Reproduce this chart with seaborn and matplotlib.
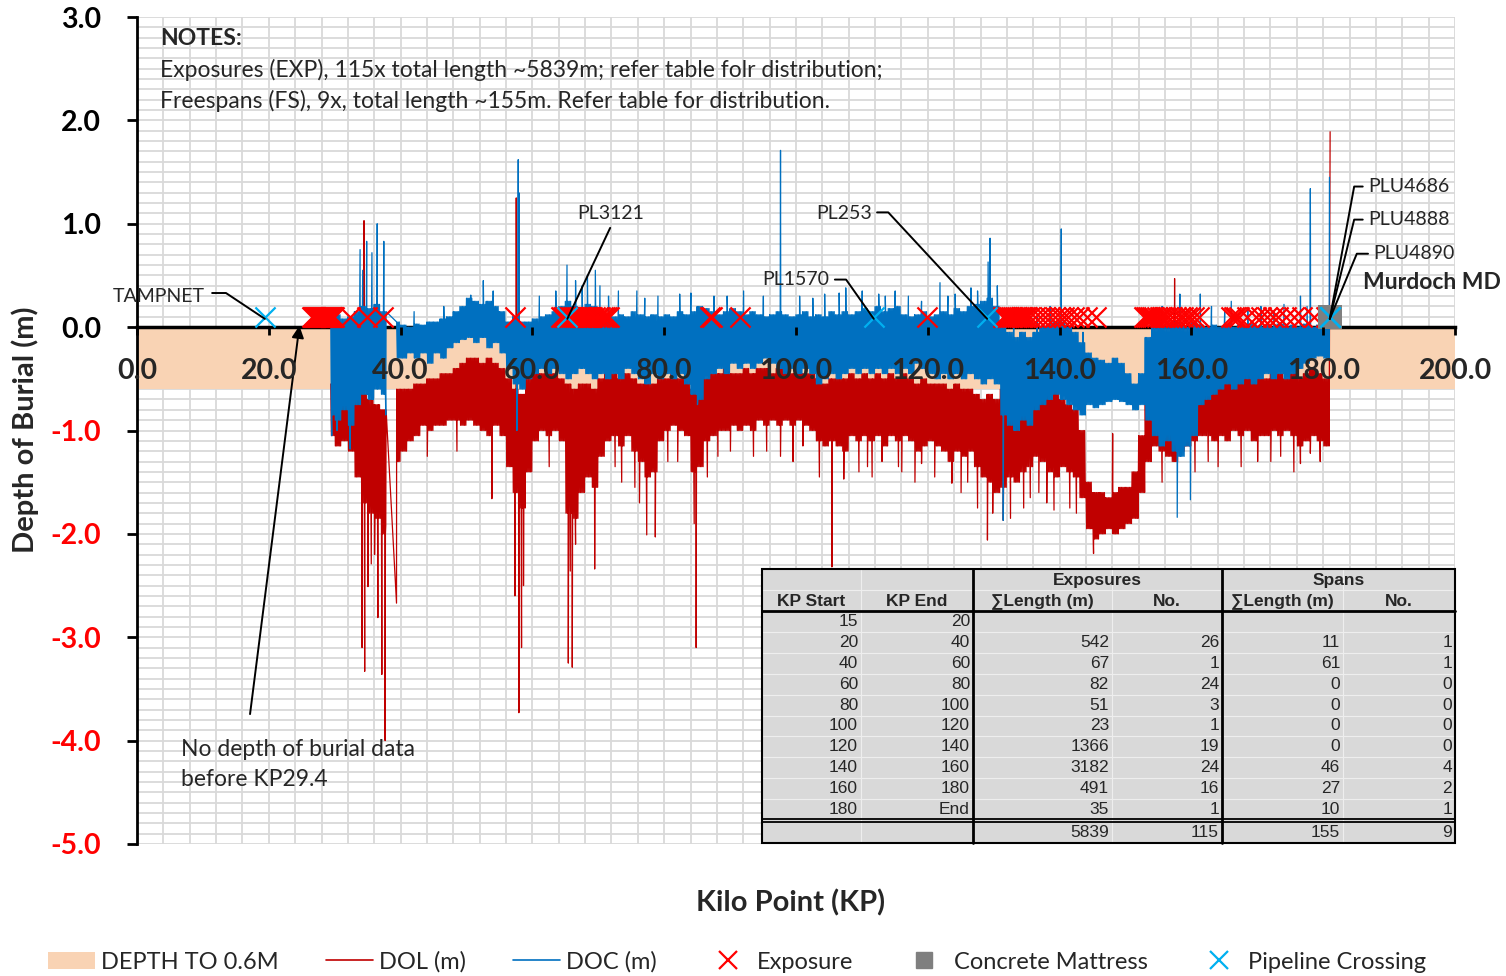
import numpy as np
import pandas as pd
import matplotlib
matplotlib.use("Agg")
import matplotlib.pyplot as plt
from matplotlib.lines import Line2D
from matplotlib.patches import Patch, Rectangle
import seaborn as sns

sns.set_style("white")
plt.rcParams["font.family"] = ["Lato", "DejaVu Sans"]

nan = np.nan

# ---------------------------------------------------------------------------
# Depth envelopes, one (upper, lower) pair per kilometre from KP 29 to KP 180
# ---------------------------------------------------------------------------
FIRST_KM = 29
DATA_START, DATA_END = 29.4, 181.0
DATA_GAP = (37.8, 39.4)

doc_top = [
    0.10, 0.12, 0.08, 0.10, 0.15, 0.20, 0.18, 0.22, 0.15, nan,
    0.05, 0.02, 0.00, 0.03, 0.02, 0.05, 0.05, 0.08, 0.10, 0.15,
    0.20, 0.28, 0.25, 0.22, 0.25, 0.20, 0.15, 0.05, 0.10, 0.05,
    0.05, 0.08, 0.10, 0.12, 0.15, 0.20, 0.25, 0.20, 0.18, 0.22,
    0.20, 0.15, 0.12, 0.10, 0.12, 0.10, 0.15, 0.12, 0.10, 0.12,
    0.10, 0.12, 0.10, 0.15, 0.12, 0.15, 0.20, 0.18, 0.15, 0.12,
    0.15, 0.18, 0.15, 0.12, 0.15, 0.12, 0.10, 0.12, 0.15, 0.12,
    0.10, 0.12, 0.15, 0.10, 0.12, 0.10, 0.15, 0.12, 0.15, 0.12,
    0.15, 0.18, 0.15, 0.20, 0.15, 0.18, 0.20, 0.12, 0.10, 0.12,
    0.15, 0.10, 0.12, 0.15, 0.12, 0.18, 0.15, 0.20, 0.22, 0.25,
    0.28, 0.20, 0.05, -0.05, -0.10, -0.05, -0.10, -0.05, 0.00, 0.02,
    0.05, 0.05, 0.00, -0.05, -0.15, -0.25, -0.30, -0.32, -0.35, -0.30,
    -0.35, -0.45, -0.55, -0.45, -0.10, 0.00, 0.02, 0.00, 0.05, 0.02,
    0.00, 0.05, 0.02, 0.00, 0.02, 0.00, 0.03, 0.00, 0.02, 0.00,
    0.03, 0.00, 0.02, 0.00, 0.03, 0.00, 0.02, 0.00, 0.03, 0.00,
    0.02, 0.03,
]
doc_bot = [
    -0.85, -0.90, -0.80, -0.95, -0.75, -0.65, -0.70, -0.60, -0.65, nan,
    -0.30, -0.30, -0.25, -0.30, -0.25, -0.35, -0.25, -0.30, -0.20, -0.15,
    -0.12, -0.10, -0.15, -0.10, -0.20, -0.15, -0.25, -0.40, -0.55, -0.60,
    -0.50, -0.45, -0.40, -0.45, -0.40, -0.45, -0.50, -0.45, -0.40, -0.45,
    -0.50, -0.45, -0.50, -0.45, -0.50, -0.40, -0.45, -0.50, -0.55, -0.45,
    -0.50, -0.45, -0.50, -0.45, -0.55, -0.65, -0.70, -0.50, -0.45, -0.40,
    -0.45, -0.35, -0.40, -0.35, -0.40, -0.35, -0.30, -0.35, -0.40, -0.45,
    -0.40, -0.45, -0.40, -0.45, -0.55, -0.50, -0.45, -0.50, -0.45, -0.40,
    -0.45, -0.40, -0.45, -0.40, -0.45, -0.40, -0.45, -0.40, -0.45, -0.35,
    -0.40, -0.45, -0.50, -0.45, -0.50, -0.45, -0.50, -0.45, -0.50, -0.55,
    -0.50, -0.55, -0.85, -0.95, -1.00, -0.90, -0.95, -0.80, -0.75, -0.70,
    -0.65, -0.70, -0.75, -0.80, -0.85, -0.75, -0.78, -0.75, -0.72, -0.70,
    -0.72, -0.75, -0.80, -0.75, -0.90, -1.05, -1.15, -1.10, -1.20, -1.25,
    -1.15, -1.05, -0.75, -0.70, -0.65, -0.60, -0.55, -0.60, -0.55, -0.50,
    -0.55, -0.50, -0.45, -0.50, -0.45, -0.50, -0.45, -0.40, -0.35, -0.30,
    -0.28, -0.30,
]
dol_top = [
    -0.55, -0.60, -0.55, -0.60, -0.60, -0.65, -0.70, -0.75, -0.80, nan,
    -0.60, -0.60, -0.60, -0.55, -0.55, -0.50, -0.50, -0.45, -0.45, -0.40,
    -0.35, -0.30, -0.30, -0.35, -0.30, -0.35, -0.40, -0.50, -0.60, -0.65,
    -0.50, -0.45, -0.45, -0.40, -0.45, -0.50, -0.55, -0.60, -0.55, -0.55,
    -0.60, -0.50, -0.45, -0.45, -0.50, -0.45, -0.50, -0.55, -0.55, -0.55,
    -0.50, -0.50, -0.45, -0.50, -0.50, -0.60, -0.55, -0.50, -0.45, -0.45,
    -0.40, -0.45, -0.45, -0.40, -0.45, -0.40, -0.40, -0.45, -0.40, -0.40,
    -0.45, -0.40, -0.45, -0.45, -0.50, -0.55, -0.50, -0.50, -0.50, -0.45,
    -0.50, -0.45, -0.50, -0.45, -0.50, -0.45, -0.50, -0.45, -0.50, -0.55,
    -0.50, -0.55, -0.55, -0.55, -0.60, -0.55, -0.60, -0.60, -0.65, -0.70,
    -0.65, -0.70, -0.60, -0.55, -0.60, -0.55, -0.50, -0.50, -0.55, -0.50,
    -0.60, -0.70, -0.75, -0.80, -1.00, -1.50, -1.60, -1.60, -1.65, -1.60,
    -1.55, -1.55, -1.40, -1.05, -0.70, -0.55, -0.60, -0.55, -0.60, -0.55,
    -0.50, -0.50, -0.45, -0.45, -0.50, -0.45, -0.50, -0.45, -0.50, -0.45,
    -0.50, -0.45, -0.50, -0.45, -0.45, -0.50, -0.45, -0.50, -0.45, -0.40,
    -0.45, -0.50,
]
dol_bot = [
    -1.05, -1.15, -1.10, -1.20, -1.45, -1.70, -1.80, -1.85, -2.00, nan,
    -1.30, -1.20, -1.10, -1.05, -0.95, -1.00, -0.95, -0.95, -0.90, -0.90,
    -0.95, -0.90, -0.95, -1.00, -1.05, -0.95, -1.05, -1.35, -1.60, -1.75,
    -1.40, -1.10, -1.00, -1.05, -1.00, -1.10, -1.80, -1.85, -1.60, -1.45,
    -1.55, -1.25, -1.10, -1.05, -1.15, -1.05, -1.20, -1.30, -1.45, -1.40,
    -1.10, -1.00, -0.95, -1.00, -1.05, -1.40, -1.35, -1.10, -1.05, -1.00,
    -1.00, -0.95, -1.00, -0.95, -1.00, -0.90, -0.95, -0.90, -0.95, -0.90,
    -0.95, -0.90, -0.95, -1.00, -1.10, -1.15, -1.10, -1.15, -1.20, -1.05,
    -1.10, -1.05, -1.10, -1.05, -1.15, -1.05, -1.10, -1.05, -1.10, -1.20,
    -1.15, -1.10, -1.15, -1.20, -1.30, -1.20, -1.25, -1.20, -1.35, -1.45,
    -1.50, -1.60, -1.55, -1.45, -1.50, -1.40, -1.35, -1.25, -1.30, -1.40,
    -1.45, -1.35, -1.40, -1.45, -1.65, -1.95, -2.05, -2.00, -1.95, -2.00,
    -1.95, -1.90, -1.85, -1.60, -1.30, -1.15, -1.20, -1.25, -1.30, -1.20,
    -1.15, -1.10, -1.05, -1.05, -1.10, -1.05, -1.10, -1.00, -1.05, -1.00,
    -1.10, -1.05, -1.05, -1.00, -1.05, -1.00, -1.05, -1.15, -1.10, -1.05,
    -1.10, -1.15,
]

# Isolated peaks and dips that stand out of the envelopes
doc_spike_kp = [29.55, 30.35, 32.35, 33.85, 34.25, 34.85, 35.65, 36.45, 37.45, 37.75,
                42.05, 46.55, 50.65, 52.55, 54.05, 57.65, 57.85, 57.95, 61.05, 65.25,
                66.55, 68.35, 69.55, 70.25, 73.05, 75.85, 79.05, 82.35, 85.05, 87.55,
                92.05, 97.65, 100.55, 104.35, 107.55, 110.05, 113.55, 115.05, 119.05,
                121.85, 124.15, 127.55, 129.15, 129.45, 131.45, 138.55, 140.25,
                157.85, 158.25, 159.85, 161.35, 163.05, 166.05, 170.55, 174.05,
                176.55, 178.05, 180.95,
                63.55, 67.55, 71.55, 77.05, 84.05, 89.55, 95.05, 102.55, 106.55,
                112.55, 117.05, 123.05, 126.55, 130.55, 133.05, 136.55, 143.55,
                155.55, 165.05, 168.55, 172.55, 177.55]
doc_spike_val = [-1.05, -1.00, -1.18, 0.75, 0.55, 0.83, 0.72, 1.00, 0.83, -0.85,
                 0.15, 0.20, 0.31, 0.45, 0.35, -1.00, 1.62, 1.30, 0.30, 0.60,
                 0.45, 0.50, 0.55, 0.40, 0.35, 0.35, 0.30, 0.32, -0.75, 0.30,
                 0.35, 1.71, 0.30, 0.32, 0.38, 0.35, 0.30, 0.35, 0.25,
                 0.43, 0.32, 0.35, 0.63, 0.86, -1.87, 0.20, 0.95,
                 -1.84, 0.32, -1.67, 0.32, 0.20, 0.25, 0.20, 0.22,
                 0.30, 1.34, 1.45,
                 0.35, 0.40, 0.30, 0.28, 0.33, 0.30, 0.30, 0.28, 0.33,
                 0.32, 0.30, 0.30, 0.38, 0.40, 0.15, 0.10, -0.05,
                 0.20, 0.15, 0.18, 0.15, 0.20]

dol_spike_kp = [34.15, 34.45, 34.55, 35.05, 35.55, 36.05, 36.55, 37.15, 37.65, 37.75,
                39.38, 44.05, 48.55, 53.85, 57.35, 57.55, 57.95, 58.35, 58.65, 62.55,
                65.45, 65.75, 66.05, 66.55, 69.45, 73.55, 77.35, 78.65, 80.55, 84.55,
                84.85, 88.15, 90.05, 97.65, 101.05, 105.45, 107.25, 110.85, 113.05,
                116.05, 119.05, 123.65, 126.05, 129.05, 129.85, 131.45, 134.55,
                136.85, 139.15, 141.55, 145.15, 148.05, 157.45, 160.55, 164.05,
                170.05, 173.55, 176.55, 178.05, 181.05,
                72.55, 75.55, 76.25, 82.05, 86.55, 93.55, 95.55, 99.55, 103.55,
                109.55, 111.55, 115.55, 118.05, 121.05, 125.05, 127.55, 132.55,
                135.55, 138.05, 142.55, 155.55, 162.55, 167.55, 172.05, 175.55, 179.55]
dol_spike_val = [-3.10, 1.03, -3.33, -2.51, -2.29, -2.20, -2.81, -3.36, -4.00, -1.92,
                 -2.67, -1.25, -1.20, -1.66, -2.60, 1.25, -3.73, -3.10, -2.50, -1.35,
                 -3.25, -2.36, -3.29, -2.10, -2.34, -1.50, -2.01, -2.03, -1.30, -1.90,
                 -3.10, -1.25, -1.20, -1.25, -1.15, -2.32, -1.47, -1.35, -1.30,
                 -1.40, -1.32, -1.51, -1.50, -2.06, -1.80, -1.87, -1.75,
                 -1.60, -1.77, -1.75, -2.19, -1.03, 0.47, -1.40, -1.35,
                 -1.30, -1.25, -1.32, -1.22, 1.89,
                 -1.35, -1.55, -1.70, -1.30, -1.45, -1.25, -1.20, -1.30, -1.45,
                 -1.40, -1.45, -1.35, -1.50, -1.45, -1.60, -1.75, -1.85,
                 -1.65, -1.70, -1.80, -1.50, -1.30, -1.35, -1.30, -1.40, -1.30]

# Event markers (plotted just above the seabed line)
MARKER_Y = 0.1
exposure_kp = [26.6, 26.75, 26.9, 27.05, 27.2, 27.35, 27.5, 27.65, 27.8, 27.95, 28.1, 28.25,
               28.4, 28.55, 28.7, 28.85, 29.0, 29.15, 29.3, 29.45, 29.6, 29.75, 29.9,
               32.3, 34.9, 37.3,
               57.4,
               64.3, 64.6, 64.9, 65.2, 65.5, 65.8, 66.1, 66.4, 66.7, 67.0, 67.3, 67.6,
               67.9, 68.2, 68.5, 68.8, 69.1, 69.5, 69.9, 70.3, 70.7, 71.0, 71.3, 71.6,
               86.9, 87.3, 91.5,
               119.9,
               131.4, 131.7, 132.0, 132.3, 132.6, 132.9, 133.2, 133.5, 133.8, 134.1,
               134.4, 134.7, 135.0, 135.5, 136.2, 137.0, 137.8, 138.5, 139.3,
               140.0, 140.6, 141.3, 142.2, 143.0, 144.2, 145.5, 152.8, 153.1, 153.4,
               153.7, 154.0, 154.4, 154.8, 155.2, 155.6, 156.0, 156.5, 157.0, 157.6,
               158.2, 158.8, 159.3, 159.8,
               160.4, 161.2, 166.0, 166.4, 166.8, 167.2, 168.5, 169.8, 170.6, 171.5,
               172.4, 173.2, 174.3, 175.5, 176.8, 178.6,
               180.4]
mattress_kp = [181.0]
crossing_names = ["TAMPNET", "PL3121", "PL1570", "PL253", "PLU4686", "PLU4888", "PLU4890"]
crossing_kp = [19.4, 65.3, 111.8, 129.0, 181.0, 181.0, 181.0]

BAND_DEPTH = 0.6

# Exposure / span summary table
kp_start = ["15", "20", "40", "60", "80", "100", "120", "140", "160", "180"]
kp_end = ["20", "40", "60", "80", "100", "120", "140", "160", "180", "End"]
exp_len = ["", "542", "67", "82", "51", "23", "1366", "3182", "491", "35"]
exp_no = ["", "26", "1", "24", "3", "1", "19", "24", "16", "1"]
span_len = ["", "11", "61", "0", "0", "0", "0", "46", "27", "10"]
span_no = ["", "1", "1", "0", "0", "0", "0", "4", "2", "1"]
totals = ["5839", "115", "155", "9"]

x_ticks = list(range(0, 201, 20))
y_ticks = [3, 2, 1, 0, -1, -2, -3, -4, -5]

DOL_C = "#C00000"
DOC_C = "#0070C0"
EXP_C = "#FF0000"
CROSS_C = "#00B0F0"
MAT_C = "#7F7F7F"
BAND_C = "#F9D3B4"
GRID_C = "#D9D9D9"


def build_trace(tops, bots, spike_kp, spike_val):
    """Dense survey trace: each kilometre swings between its upper and lower depth."""
    xs, ys = [], []
    for i, (t, b) in enumerate(zip(tops, bots)):
        if np.isnan(t):
            continue
        km = FIRST_KM + i
        for j in range(10):
            x = round(km + j / 10, 2)
            if x < DATA_START or x > DATA_END or DATA_GAP[0] < x < DATA_GAP[1]:
                continue
            xs.append(x)
            ys.append(t if j % 2 == 0 else b)
    df = pd.DataFrame({"kp": xs + list(spike_kp), "depth": ys + list(spike_val)})
    return df.sort_values("kp", kind="stable").reset_index(drop=True)


W, H = 1506, 976
fig = plt.figure(figsize=(W / 100, H / 100), dpi=100)
ax = fig.add_axes([137 / W, 1 - 844 / H, (1455 - 137) / W, (844 - 17) / H])
ax.set_xlim(0, 200)
ax.set_ylim(-5, 3)

# background grid: every 4 km and every 0.1 m
ax.vlines(np.arange(4, 201, 4), -5, 3, color=GRID_C, lw=1.3, zorder=0.5)
ax.hlines(np.round(np.arange(-5, 3.001, 0.1), 1), 0, 200, color=GRID_C, lw=1.3, zorder=0.5)

# band of target burial depth
ax.fill_between([0, 200], -BAND_DEPTH, 0, color=BAND_C, lw=0, zorder=1)

dol = build_trace(dol_top, dol_bot, dol_spike_kp, dol_spike_val)
doc = build_trace(doc_top, doc_bot, doc_spike_kp, doc_spike_val)
sns.lineplot(data=dol, x="kp", y="depth", ax=ax, color=DOL_C, lw=0.9,
             estimator=None, sort=False, zorder=3)
sns.lineplot(data=doc, x="kp", y="depth", ax=ax, color=DOC_C, lw=0.9,
             estimator=None, sort=False, zorder=4)

sns.scatterplot(x=exposure_kp, y=[MARKER_Y] * len(exposure_kp), ax=ax, marker="x",
                color=EXP_C, s=210, linewidth=1.6, zorder=5)
sns.scatterplot(x=mattress_kp, y=[MARKER_Y] * len(mattress_kp), ax=ax, marker="s",
                color=MAT_C, s=280, linewidth=0, zorder=6)
sns.scatterplot(x=crossing_kp, y=[MARKER_Y] * len(crossing_kp), ax=ax, marker="x",
                color=CROSS_C, s=210, linewidth=1.6, zorder=7)

# axes styling
ax.grid(False)
for side in ("top", "right"):
    ax.spines[side].set_visible(False)
ax.spines["left"].set_color("black")
ax.spines["left"].set_linewidth(2)
ax.spines["bottom"].set_position(("data", 0))
ax.spines["bottom"].set_color("black")
ax.spines["bottom"].set_linewidth(2.5)
ax.xaxis.set_zorder(9)
ax.yaxis.set_zorder(9)

TICK_FS = 20.5
ax.set_xticks(x_ticks, labels=[f"{v:.1f}" for v in x_ticks], fontsize=TICK_FS,
              fontweight="bold")
ax.set_yticks(y_ticks, labels=[f"{v:.1f}" for v in y_ticks], fontsize=TICK_FS,
              fontweight="bold")
ax.tick_params(axis="x", which="major", direction="out", length=6, width=2, pad=16,
               color="black", bottom=True)
ax.tick_params(axis="y", which="major", direction="out", length=7, width=2, pad=19,
               color="black", left=True)
for lbl, v in zip(ax.get_yticklabels(), y_ticks):
    lbl.set_color("#FF0000" if v < 0 else "black")
ax.set_xlabel("")
ax.set_ylabel("")

fig.text(25 / W, 1 - 430 / H, "Depth of Burial (m)", rotation=90, ha="center",
         va="center", fontsize=21, fontweight="bold")
fig.text(791 / W, 1 - 903 / H, "Kilo Point (KP)", ha="center", va="center",
         fontsize=21, fontweight="bold")

# notes
NOTE_FS = 16.5
ax.text(3.5, 2.79, "NOTES:", fontsize=NOTE_FS, fontweight="bold", va="center")
ax.text(3.5, 2.49, "Exposures (EXP), 115x total length ~5839m; refer table folr distribution;",
        fontsize=NOTE_FS, va="center")
ax.text(3.5, 2.19, "Freespans (FS), 9x, total length ~155m. Refer table for distribution.",
        fontsize=NOTE_FS, va="center")

# crossing call-outs: label anchor, leader start, elbow, alignment
ANN_C = "#262626"
callouts = {
    "TAMPNET": ((10.3, 0.30), (11.4, 0.33), (13.5, 0.33), "right"),
    "PL3121": ((71.9, 1.10), (71.8, 0.96), None, "center"),
    "PL1570": ((105.0, 0.46), (105.9, 0.46), (107.6, 0.46), "right"),
    "PL253": ((111.5, 1.10), (112.3, 1.11), (114.0, 1.11), "right"),
    "PLU4686": ((186.9, 1.36), (186.0, 1.36), (184.7, 1.36), "left"),
    "PLU4888": ((186.9, 1.04), (186.0, 1.04), (184.7, 1.04), "left"),
    "PLU4890": ((187.6, 0.71), (186.8, 0.71), (185.1, 0.71), "left"),
}
for name, kp in zip(crossing_names, crossing_kp):
    (tx, ty), start, elbow, ha = callouts[name]
    ax.text(tx, ty, name, fontsize=14, color=ANN_C, ha=ha, va="center", clip_on=False,
            zorder=8)
    px = [start[0]] + ([elbow[0]] if elbow else []) + [kp]
    py = [start[1]] + ([elbow[1]] if elbow else []) + [MARKER_Y - 0.02]
    ax.plot(px, py, color="black", lw=1.4, zorder=8, clip_on=False)
ax.text(186.0, 0.43, "Murdoch MD", fontsize=16.5, fontweight="bold", ha="left",
        va="center", clip_on=False, zorder=8)

# data start note
ax.annotate("", xy=(DATA_START - 4.7, 0.04), xytext=(17.1, -3.77),
            arrowprops=dict(arrowstyle="-|>", color="black", lw=1.4,
                            mutation_scale=18), zorder=8)
ax.text(6.7, -4.09, "No depth of burial data", fontsize=16.5, color=ANN_C, va="center")
ax.text(6.7, -4.38, "before KP29.4", fontsize=16.5, color=ANN_C, va="center")


# ---------------- summary table (figure pixel layout) ----------------
def fx(x):
    return x / W


def fy(y):
    return 1 - y / H


def hline(x0, x1, y, color="black", lw=1.5):
    fig.add_artist(Line2D([fx(x0), fx(x1)], [fy(y), fy(y)], color=color, lw=lw,
                          transform=fig.transFigure, zorder=11))


def vline(x, y0, y1, color="black", lw=1.5):
    fig.add_artist(Line2D([fx(x), fx(x)], [fy(y0), fy(y1)], color=color, lw=lw,
                          transform=fig.transFigure, zorder=11))


cols = [762, 861, 973, 1112, 1222, 1343, 1455]
t_top, t_mid, t_hdr, t_bot = 569, 590, 611, 843
row_h = 20.9
tot_top = t_hdr + row_h * 10

fig.add_artist(Rectangle((fx(cols[0]), fy(t_bot)), fx(cols[-1]) - fx(cols[0]),
                         fy(t_top) - fy(t_bot), transform=fig.transFigure,
                         facecolor="#D9D9D9", edgecolor="none", zorder=10))
light = "#EEEEEE"
for c in (cols[1], cols[3], cols[5]):
    vline(c, t_top, t_bot, color=light, lw=0.8)
hline(cols[0], cols[-1], t_mid, color=light, lw=0.8)
for i in range(1, 10):
    hline(cols[0], cols[-1], t_hdr + row_h * i, color=light, lw=0.8)
vline(cols[2], t_top, t_bot, lw=2)
vline(cols[4], t_top, t_bot, lw=2)
hline(cols[0], cols[-1], t_hdr, lw=2)
hline(cols[0], cols[-1], tot_top - 1.5, lw=1.3)
hline(cols[0], cols[-1], tot_top + 2, lw=1.3)
fig.add_artist(Rectangle((fx(cols[0]), fy(t_bot)), fx(cols[-1]) - fx(cols[0]),
                         fy(t_top) - fy(t_bot), transform=fig.transFigure,
                         facecolor="none", edgecolor="black", lw=1.5, zorder=12))

TFONT = ["Liberation Sans Narrow", "Liberation Sans"]
TS = 12.5


def ttext(x, y, s, ha="right", bold=False):
    fig.text(fx(x), fy(y), s, ha=ha, va="center", fontsize=TS, family=TFONT,
             fontweight="bold" if bold else "normal", zorder=13)


ttext((cols[2] + cols[4]) / 2, 580, "Exposures", ha="center", bold=True)
ttext((cols[4] + cols[6]) / 2, 580, "Spans", ha="center", bold=True)
for (a, b), s in zip(zip(cols[:-1], cols[1:]),
                     ["KP Start", "KP End", "\u2211Length (m)", "No.", "\u2211Length (m)", "No."]):
    ttext((a + b) / 2, 601, s, ha="center", bold=True)

for i, row in enumerate(zip(kp_start, kp_end, exp_len, exp_no, span_len, span_no)):
    yc = t_hdr + row_h * (i + 0.5)
    for j, s in enumerate(row):
        if s:
            ttext(cols[j + 1] - 3, yc, s)
for j, s in enumerate(totals):
    ttext(cols[j + 3] - 3, (tot_top + t_bot) / 2 + 1, s)

# legend
handles = [
    Patch(facecolor=BAND_C, edgecolor="none"),
    Line2D([], [], color=DOL_C, lw=1.2),
    Line2D([], [], color=DOC_C, lw=1.2),
    Line2D([], [], color=EXP_C, marker="x", ls="none", ms=13, mew=1.6),
    Line2D([], [], color=MAT_C, marker="s", ls="none", ms=12),
    Line2D([], [], color=CROSS_C, marker="x", ls="none", ms=13, mew=1.6),
]
labels = ["DEPTH TO 0.6M", "DOL (m)", "DOC (m)", "Exposure", "Concrete Mattress",
          "Pipeline Crossing"]
fig.legend(handles, labels, loc="center", bbox_to_anchor=(737 / W, 1 - 962 / H), ncol=6,
           frameon=False, fontsize=17, handlelength=2.0, handletextpad=0.25,
           columnspacing=2.0)

fig.savefig("out.png", dpi=100)
